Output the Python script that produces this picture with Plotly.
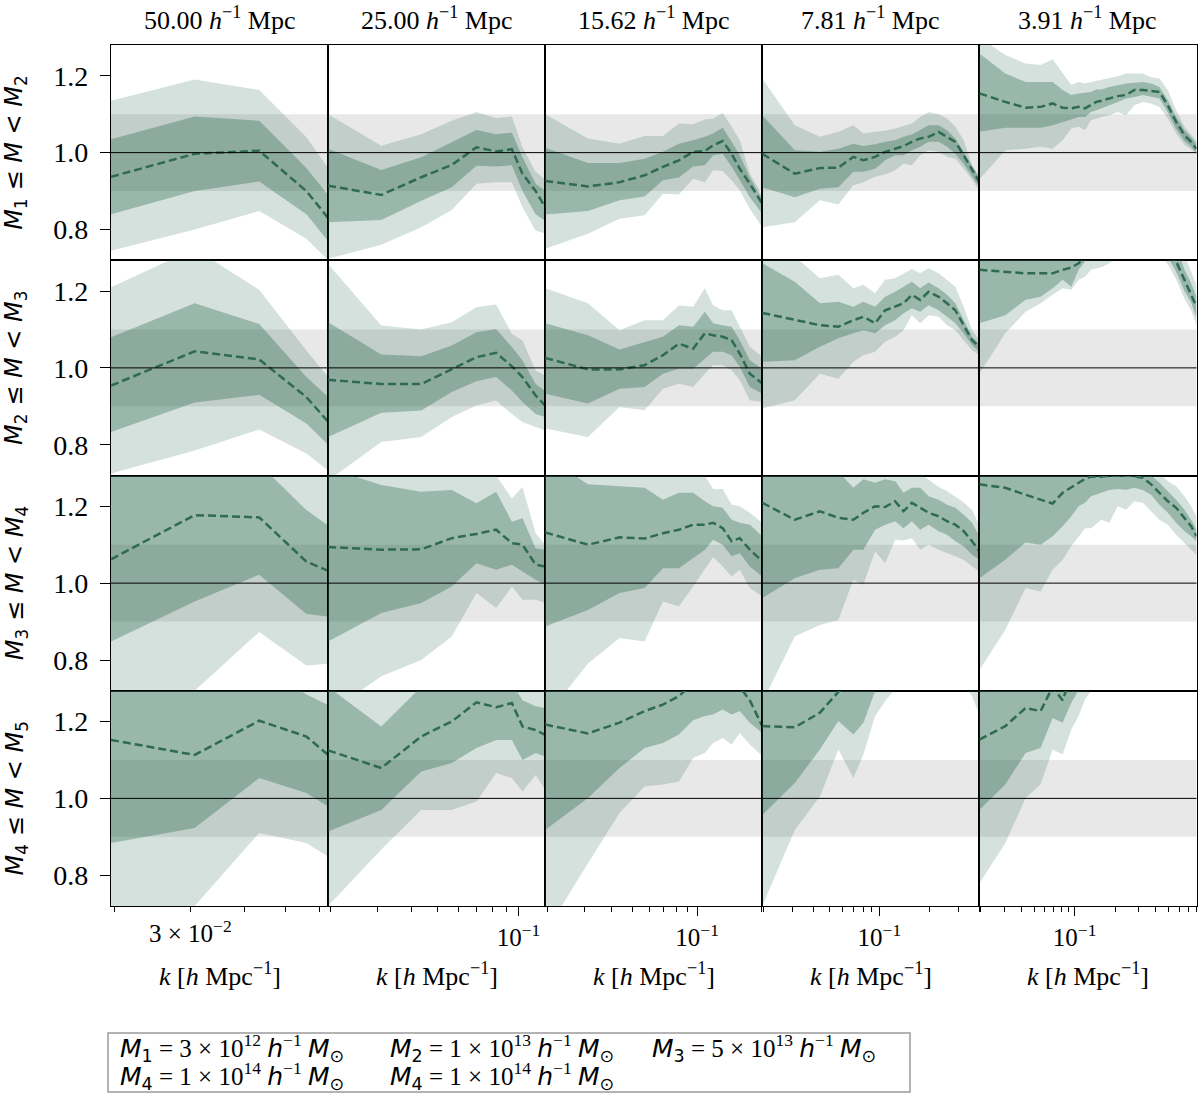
import math
import plotly.graph_objects as go

# ---------------- k grids (h/Mpc) per column ----------------
K1 = [0.0196, 0.0307, 0.0434, 0.0559, 0.0628]
K2 = [0.0196, 0.0309, 0.0435, 0.0565, 0.0698, 0.0826, 0.0945, 0.1035, 0.1158, 0.1257]
K3 = [0.0196, 0.0310, 0.0435, 0.0569, 0.0693, 0.0822, 0.0958, 0.1086, 0.1186, 0.1315,
      0.1447, 0.1580, 0.1759, 0.2011]
K4 = [0.0196, 0.0308, 0.0437, 0.0565, 0.0696, 0.0800, 0.0942, 0.1083, 0.1245, 0.1399,
      0.1571, 0.1765, 0.1983, 0.2281, 0.2562, 0.2878, 0.3233, 0.3632, 0.4022]
K5 = [0.0196, 0.0305, 0.0432, 0.0558, 0.0686, 0.0814, 0.0944, 0.1070, 0.1193, 0.1322,
      0.1449, 0.1578, 0.1810, 0.2088, 0.2408, 0.2778, 0.3205, 0.3697, 0.4264, 0.4918,
      0.5672, 0.6542, 0.7333, 0.8035]

COL_TITLES = ["50.00", "25.00", "15.62", "7.81", "3.91"]
ROW_IDX = [("1", "2"), ("2", "3"), ("3", "4"), ("4", "5")]
MAJOR_TICKS = [[0.03], [0.1], [0.1], [0.1], [0.1]]
MAJOR_TEXT = [["3 × 10<sup>−2</sup>"], ["10<sup>−1</sup>"], ["10<sup>−1</sup>"],
              ["10<sup>−1</sup>"], ["10<sup>−1</sup>"]]
MINOR_TICKS = [0.02, 0.03, 0.04, 0.05, 0.06, 0.07, 0.08, 0.09, 0.2, 0.3, 0.4, 0.5, 0.6, 0.7, 0.8]
YTICKS = [0.8, 1.0, 1.2]
LEGEND_ENTRIES = [("1", "3", "12"), ("2", "1", "13"), ("3", "5", "13"),
                  ("4", "1", "14"), ("4", "1", "14")]

# ---------------- column 1 ----------------
R1C1_MED = [0.937, 0.997, 1.005, 0.900, 0.830]
R1C1_ILO = [0.840, 0.900, 0.925, 0.840, 0.770]
R1C1_IHI = [1.035, 1.094, 1.083, 0.960, 0.890]
R1C1_OLO = [0.745, 0.800, 0.848, 0.776, 0.720]
R1C1_OHI = [1.135, 1.190, 1.163, 1.040, 0.960]

R2C1_MED = [0.954, 1.043, 1.022, 0.924, 0.860]
R2C1_ILO = [0.833, 0.910, 0.930, 0.855, 0.800]
R2C1_IHI = [1.080, 1.168, 1.114, 0.976, 0.924]
R2C1_OLO = [0.725, 0.785, 0.840, 0.777, 0.733]
R2C1_OHI = [1.210, 1.310, 1.203, 1.045, 0.976]

R3C1_MED = [1.062, 1.177, 1.171, 1.056, 1.032]
R3C1_ILO = [0.848, 0.952, 1.022, 0.920, 0.913]
R3C1_IHI = [1.300, 1.330, 1.310, 1.190, 1.150]
R3C1_OLO = [0.620, 0.720, 0.873, 0.786, 0.790]
R3C1_OHI = [1.400, 1.450, 1.400, 1.330, 1.300]

R4C1_MED = [1.152, 1.113, 1.202, 1.161, 1.113]
R4C1_ILO = [0.884, 0.923, 1.053, 1.014, 0.979]
R4C1_IHI = [1.350, 1.400, 1.350, 1.270, 1.243]
R4C1_OLO = [0.700, 0.720, 0.910, 0.884, 0.849]
R4C1_OHI = [1.450, 1.500, 1.450, 1.380, 1.340]

# ---------------- column 2 ----------------
R1C2_MED = [0.914, 0.890, 0.936, 0.968, 1.014, 1.003, 1.009, 0.945, 0.900, 0.858]
R1C2_ILO = [0.819, 0.825, 0.875, 0.910, 0.966, 0.964, 0.967, 0.900, 0.840, 0.823]
R1C2_IHI = [1.010, 0.955, 0.988, 1.027, 1.059, 1.048, 1.052, 0.988, 0.919, 0.900]
R1C2_OLO = [0.724, 0.760, 0.806, 0.851, 0.919, 0.923, 0.923, 0.858, 0.797, 0.790]
R1C2_OHI = [1.100, 1.018, 1.048, 1.083, 1.106, 1.090, 1.094, 1.014, 0.950, 0.930]

R2C2_MED = [0.969, 0.958, 0.958, 0.997, 1.028, 1.039, 1.004, 0.976, 0.928, 0.902]
R2C2_ILO = [0.820, 0.883, 0.889, 0.937, 0.965, 0.976, 0.941, 0.911, 0.880, 0.872]
R2C2_IHI = [1.119, 1.035, 1.030, 1.058, 1.093, 1.101, 1.054, 1.019, 0.958, 0.940]
R2C2_OLO = [0.707, 0.807, 0.820, 0.872, 0.902, 0.915, 0.880, 0.859, 0.846, 0.837]
R2C2_OHI = [1.270, 1.110, 1.100, 1.119, 1.158, 1.165, 1.088, 1.071, 0.993, 0.980]

R3C2_MED = [1.094, 1.087, 1.088, 1.117, 1.128, 1.139, 1.104, 1.100, 1.048, 1.043]
R3C2_ILO = [0.848, 0.922, 0.948, 0.991, 1.052, 1.035, 1.048, 1.030, 1.009, 0.996]
R3C2_IHI = [1.300, 1.255, 1.238, 1.242, 1.208, 1.238, 1.160, 1.169, 1.090, 1.087]
R3C2_OLO = [0.660, 0.758, 0.800, 0.861, 0.974, 0.935, 0.991, 0.957, 0.957, 0.948]
R3C2_OHI = [1.400, 1.320, 1.310, 1.310, 1.300, 1.280, 1.220, 1.250, 1.130, 1.100]

R4C2_MED = [1.125, 1.079, 1.161, 1.200, 1.250, 1.237, 1.248, 1.187, 1.178, 1.165]
R4C2_ILO = [0.914, 0.970, 1.070, 1.092, 1.131, 1.152, 1.152, 1.100, 1.118, 1.109]
R4C2_IHI = [1.290, 1.187, 1.290, 1.320, 1.320, 1.320, 1.300, 1.255, 1.240, 1.235]
R4C2_OLO = [0.720, 0.867, 0.970, 0.970, 0.992, 1.066, 1.053, 1.018, 1.061, 1.023]
R4C2_OHI = [1.400, 1.350, 1.400, 1.400, 1.400, 1.400, 1.400, 1.350, 1.330, 1.320]

# ---------------- column 3 ----------------
R1C3_MED = [0.926, 0.912, 0.923, 0.941, 0.963, 0.980, 1.002, 1.004, 1.019, 1.030, 0.997, 0.958, 0.919, 0.867]
R1C3_ILO = [0.839, 0.848, 0.876, 0.886, 0.928, 0.935, 0.964, 0.967, 0.993, 0.997, 0.963, 0.928, 0.884, 0.841]
R1C3_IHI = [1.013, 0.973, 0.973, 0.984, 1.002, 1.023, 1.032, 1.041, 1.050, 1.065, 1.028, 0.993, 0.935, 0.880]
R1C3_OLO = [0.750, 0.789, 0.828, 0.837, 0.893, 0.891, 0.932, 0.923, 0.954, 0.952, 0.928, 0.902, 0.854, 0.806]
R1C3_OHI = [1.100, 1.037, 1.023, 1.043, 1.043, 1.076, 1.074, 1.086, 1.089, 1.103, 1.067, 1.032, 0.945, 0.890]

R2C3_MED = [1.026, 0.996, 0.996, 1.007, 1.033, 1.063, 1.050, 1.090, 1.085, 1.081, 1.072, 1.037, 0.985, 0.959]
R2C3_ILO = [0.933, 0.907, 0.946, 0.950, 0.985, 0.998, 0.998, 1.024, 1.042, 1.042, 1.033, 1.003, 0.950, 0.933]
R2C3_IHI = [1.116, 1.085, 1.048, 1.068, 1.081, 1.111, 1.107, 1.146, 1.116, 1.111, 1.107, 1.072, 1.020, 0.998]
R2C3_OLO = [0.842, 0.820, 0.898, 0.890, 0.946, 0.959, 0.950, 0.985, 1.007, 1.007, 0.994, 0.968, 0.916, 0.911]
R2C3_OHI = [1.207, 1.168, 1.098, 1.124, 1.124, 1.162, 1.159, 1.207, 1.163, 1.150, 1.150, 1.107, 1.055, 1.029]

R3C3_MED = [1.132, 1.100, 1.119, 1.116, 1.130, 1.139, 1.152, 1.152, 1.157, 1.143, 1.109, 1.117, 1.087, 1.057]
R3C3_ILO = [0.887, 0.930, 0.974, 0.987, 1.039, 1.039, 1.065, 1.087, 1.113, 1.100, 1.070, 1.078, 1.043, 1.017]
R3C3_IHI = [1.330, 1.257, 1.252, 1.248, 1.217, 1.235, 1.235, 1.213, 1.200, 1.196, 1.165, 1.157, 1.152, 1.122]
R3C3_OLO = [0.650, 0.791, 0.857, 0.848, 0.952, 0.939, 0.991, 1.035, 1.068, 1.043, 1.017, 1.035, 0.987, 0.965]
R3C3_OHI = [1.350, 1.300, 1.290, 1.290, 1.290, 1.290, 1.290, 1.280, 1.245, 1.245, 1.204, 1.200, 1.183, 1.157]

R4C3_MED = [1.192, 1.169, 1.197, 1.227, 1.244, 1.266, 1.300, 1.310, 1.310, 1.310, 1.310, 1.290, 1.255, 1.188]
R4C3_ILO = [0.918, 1.001, 1.079, 1.131, 1.144, 1.166, 1.203, 1.214, 1.218, 1.231, 1.218, 1.227, 1.197, 1.170]
R4C3_IHI = [1.400, 1.400, 1.400, 1.400, 1.400, 1.400, 1.400, 1.400, 1.400, 1.400, 1.400, 1.380, 1.340, 1.300]
R4C3_OLO = [0.650, 0.831, 0.962, 1.031, 1.036, 1.044, 1.105, 1.118, 1.144, 1.157, 1.140, 1.170, 1.140, 1.110]
R4C3_OHI = [1.450, 1.450, 1.450, 1.450, 1.450, 1.450, 1.450, 1.450, 1.450, 1.450, 1.450, 1.450, 1.450, 1.450]

# ---------------- column 4 ----------------
R1C4_MED = [0.997, 0.945, 0.960, 0.961, 0.989, 0.980, 0.989, 1.002, 1.010, 1.017, 1.028, 1.037, 1.041, 1.054,
            1.041, 1.028, 0.993, 0.954, 0.923]
R1C4_ILO = [0.910, 0.884, 0.906, 0.910, 0.950, 0.950, 0.958, 0.980, 0.993, 0.993, 1.006, 1.015, 1.028, 1.028,
            1.015, 0.997, 0.971, 0.937, 0.910]
R1C4_IHI = [1.097, 1.006, 1.002, 1.010, 1.023, 1.017, 1.022, 1.028, 1.032, 1.041, 1.047, 1.058, 1.071, 1.071,
            1.058, 1.037, 1.000, 0.965, 0.935]
R1C4_OLO = [0.806, 0.819, 0.876, 0.865, 0.915, 0.923, 0.937, 0.943, 0.954, 0.971, 0.967, 0.993, 1.006, 1.002,
            0.989, 0.984, 0.958, 0.930, 0.900]
R1C4_OHI = [1.193, 1.071, 1.041, 1.054, 1.071, 1.050, 1.054, 1.057, 1.063, 1.069, 1.076, 1.093, 1.106, 1.100,
            1.089, 1.067, 1.032, 0.967, 0.937]

R2C4_MED = [1.143, 1.126, 1.111, 1.107, 1.124, 1.133, 1.116, 1.150, 1.159, 1.168, 1.190, 1.177, 1.198, 1.185,
            1.168, 1.150, 1.111, 1.072, 1.055]
R2C4_ILO = [1.016, 1.020, 1.055, 1.077, 1.090, 1.098, 1.090, 1.111, 1.124, 1.142, 1.155, 1.146, 1.163, 1.150,
            1.133, 1.116, 1.090, 1.059, 1.042]
R2C4_IHI = [1.272, 1.224, 1.168, 1.172, 1.159, 1.172, 1.159, 1.185, 1.198, 1.211, 1.224, 1.207, 1.222, 1.207,
            1.190, 1.168, 1.124, 1.081, 1.062]
R2C4_OLO = [0.894, 0.916, 0.985, 0.972, 1.016, 1.033, 1.042, 1.068, 1.081, 1.098, 1.137, 1.116, 1.137, 1.133,
            1.111, 1.098, 1.072, 1.046, 1.033]
R2C4_OHI = [1.300, 1.290, 1.233, 1.242, 1.207, 1.216, 1.194, 1.229, 1.233, 1.246, 1.257, 1.246, 1.259, 1.246,
            1.229, 1.211, 1.159, 1.098, 1.072]

R3C4_MED = [1.209, 1.165, 1.187, 1.170, 1.165, 1.183, 1.200, 1.198, 1.213, 1.187, 1.209, 1.196, 1.183, 1.174,
            1.161, 1.152, 1.135, 1.109, 1.083]
R3C4_ILO = [0.961, 1.013, 1.035, 1.039, 1.087, 1.087, 1.139, 1.152, 1.161, 1.143, 1.161, 1.139, 1.152, 1.135,
            1.126, 1.109, 1.096, 1.074, 1.061]
R3C4_IHI = [1.320, 1.320, 1.310, 1.290, 1.248, 1.270, 1.261, 1.270, 1.265, 1.235, 1.248, 1.248, 1.226, 1.217,
            1.204, 1.196, 1.178, 1.157, 1.122]
R3C4_OLO = [0.690, 0.861, 0.891, 0.904, 1.009, 0.996, 1.083, 1.052, 1.113, 1.111, 1.117, 1.087, 1.100, 1.087,
            1.078, 1.070, 1.061, 1.043, 1.030]
R3C4_OHI = [1.350, 1.350, 1.330, 1.310, 1.290, 1.300, 1.300, 1.300, 1.300, 1.290, 1.290, 1.285, 1.268, 1.250,
            1.240, 1.225, 1.210, 1.190, 1.150]

R4C4_MED = [1.188, 1.185, 1.223, 1.277, 1.310, 1.330, 1.350, 1.350, 1.350, 1.350, 1.350, 1.350, 1.350, 1.350,
            1.350, 1.350, 1.350, 1.350, 1.350]
R4C4_ILO = [0.957, 1.040, 1.127, 1.201, 1.166, 1.197, 1.279, 1.310, 1.320, 1.330, 1.330, 1.330, 1.330, 1.330,
            1.330, 1.330, 1.320, 1.310, 1.300]
R4C4_IHI = [1.400, 1.400, 1.400, 1.400, 1.400, 1.400, 1.400, 1.400, 1.400, 1.400, 1.400, 1.400, 1.400, 1.400,
            1.400, 1.400, 1.400, 1.400, 1.400]
R4C4_OLO = [0.720, 0.918, 1.005, 1.127, 1.053, 1.114, 1.214, 1.253, 1.285, 1.300, 1.310, 1.310, 1.310, 1.310,
            1.310, 1.310, 1.300, 1.266, 1.218]
R4C4_OHI = [1.450, 1.450, 1.450, 1.450, 1.450, 1.450, 1.450, 1.450, 1.450, 1.450, 1.450, 1.450, 1.450, 1.450,
            1.450, 1.450, 1.450, 1.450, 1.450]

# ---------------- column 5 ----------------
R1C5_MED = [1.154, 1.132, 1.117, 1.119, 1.128, 1.117, 1.115, 1.119, 1.115, 1.123, 1.132, 1.135, 1.141, 1.147,
            1.150, 1.163, 1.163, 1.161, 1.158, 1.123, 1.080, 1.045, 1.028, 1.010]
R1C5_ILO = [1.054, 1.065, 1.065, 1.065, 1.071, 1.080, 1.086, 1.093, 1.093, 1.106, 1.110, 1.115, 1.123, 1.132,
            1.141, 1.145, 1.150, 1.145, 1.141, 1.105, 1.062, 1.030, 1.015, 0.998]
R1C5_IHI = [1.258, 1.206, 1.184, 1.184, 1.184, 1.163, 1.150, 1.154, 1.156, 1.158, 1.164, 1.164, 1.171, 1.176,
            1.180, 1.182, 1.184, 1.180, 1.171, 1.137, 1.093, 1.058, 1.040, 1.022]
R1C5_OLO = [0.930, 1.006, 1.010, 1.015, 1.010, 1.032, 1.063, 1.067, 1.058, 1.084, 1.089, 1.093, 1.097, 1.106,
            1.097, 1.123, 1.132, 1.128, 1.119, 1.089, 1.050, 1.020, 1.008, 0.995]
R1C5_OHI = [1.300, 1.254, 1.232, 1.228, 1.243, 1.206, 1.176, 1.184, 1.180, 1.184, 1.187, 1.189, 1.193, 1.199,
            1.206, 1.206, 1.206, 1.196, 1.193, 1.163, 1.110, 1.067, 1.048, 1.030]

R2C5_MED = [1.255, 1.249, 1.246, 1.246, 1.246, 1.255, 1.261, 1.272, 1.290, 1.300, 1.310, 1.320, 1.330, 1.330,
            1.330, 1.330, 1.330, 1.330, 1.320, 1.300, 1.277, 1.229, 1.194, 1.159]
R2C5_ILO = [1.116, 1.137, 1.177, 1.185, 1.207, 1.229, 1.211, 1.255, 1.277, 1.300, 1.310, 1.320, 1.320, 1.320,
            1.320, 1.320, 1.320, 1.320, 1.310, 1.290, 1.250, 1.200, 1.170, 1.130]
R2C5_IHI = [1.300, 1.300, 1.300, 1.300, 1.300, 1.310, 1.310, 1.320, 1.340, 1.350, 1.360, 1.370, 1.380, 1.380,
            1.380, 1.380, 1.380, 1.380, 1.370, 1.350, 1.315, 1.255, 1.220, 1.185]
R2C5_OLO = [0.985, 1.090, 1.146, 1.168, 1.190, 1.207, 1.203, 1.229, 1.237, 1.255, 1.259, 1.262, 1.272, 1.290,
            1.300, 1.300, 1.300, 1.300, 1.290, 1.270, 1.230, 1.180, 1.150, 1.110]
R2C5_OHI = [1.350, 1.350, 1.350, 1.350, 1.350, 1.360, 1.360, 1.370, 1.390, 1.400, 1.410, 1.420, 1.430, 1.430,
            1.430, 1.430, 1.430, 1.430, 1.420, 1.400, 1.360, 1.290, 1.250, 1.215]

R3C5_MED = [1.257, 1.248, 1.230, 1.217, 1.207, 1.235, 1.248, 1.261, 1.271, 1.277, 1.277, 1.277, 1.280, 1.280,
            1.280, 1.278, 1.274, 1.257, 1.235, 1.213, 1.196, 1.170, 1.148, 1.122]
R3C5_ILO = [1.013, 1.061, 1.106, 1.100, 1.122, 1.148, 1.174, 1.200, 1.209, 1.226, 1.230, 1.235, 1.242, 1.245,
            1.243, 1.248, 1.242, 1.230, 1.204, 1.183, 1.157, 1.135, 1.122, 1.109]
R3C5_IHI = [1.330, 1.330, 1.330, 1.330, 1.330, 1.330, 1.330, 1.330, 1.330, 1.330, 1.330, 1.330, 1.330, 1.330,
            1.320, 1.300, 1.290, 1.280, 1.261, 1.239, 1.217, 1.191, 1.165, 1.139]
R3C5_OLO = [0.774, 0.878, 0.987, 0.978, 1.035, 1.061, 1.096, 1.122, 1.143, 1.143, 1.155, 1.165, 1.157, 1.200,
            1.191, 1.213, 1.209, 1.187, 1.165, 1.152, 1.126, 1.104, 1.087, 1.074]
R3C5_OHI = [1.380, 1.380, 1.380, 1.380, 1.380, 1.380, 1.380, 1.380, 1.380, 1.380, 1.380, 1.380, 1.380, 1.380,
            1.360, 1.340, 1.320, 1.300, 1.285, 1.265, 1.252, 1.226, 1.200, 1.174]

R4C5_MED = [1.153, 1.188, 1.235, 1.227, 1.290, 1.255, 1.320, 1.340, 1.350, 1.350, 1.350, 1.350, 1.350, 1.350,
            1.350, 1.350, 1.350, 1.350, 1.350, 1.350, 1.350, 1.350, 1.350, 1.350]
R4C5_ILO = [0.970, 1.036, 1.118, 1.131, 1.209, 1.197, 1.249, 1.281, 1.300, 1.320, 1.320, 1.320, 1.320, 1.320,
            1.320, 1.320, 1.320, 1.320, 1.320, 1.320, 1.320, 1.320, 1.320, 1.320]
R4C5_IHI = [1.400, 1.400, 1.400, 1.400, 1.400, 1.400, 1.400, 1.400, 1.400, 1.400, 1.400, 1.400, 1.400, 1.400,
            1.400, 1.400, 1.400, 1.400, 1.400, 1.400, 1.400, 1.400, 1.400, 1.400]
R4C5_OLO = [0.779, 0.883, 1.001, 1.036, 1.127, 1.114, 1.179, 1.214, 1.257, 1.281, 1.300, 1.310, 1.310, 1.310,
            1.310, 1.310, 1.310, 1.310, 1.310, 1.310, 1.310, 1.310, 1.310, 1.310]
R4C5_OHI = [1.450, 1.450, 1.450, 1.450, 1.450, 1.450, 1.450, 1.450, 1.450, 1.450, 1.450, 1.450, 1.450, 1.450,
            1.450, 1.450, 1.450, 1.450, 1.450, 1.450, 1.450, 1.450, 1.450, 1.450]

COL_K = [K1, K2, K3, K4, K5]
G = globals()

# ---------------- styling / geometry ----------------
W, H = 1200, 1094
X_LEFT, X_RIGHT = 111 / W, 1196.5 / W
Y_TOP, Y_BOT = 1 - 45 / H, 1 - 906 / H
NC, NR = 5, 4
CW = (X_RIGHT - X_LEFT) / NC
RH = (Y_TOP - Y_BOT) / NR

LINE_COL = "#2f6b52"
OUTER_FILL = "rgba(47,107,82,0.20)"
INNER_FILL = "rgba(47,107,82,0.36)"
SERIF = "Liberation Serif"
SANS = "DejaVu Sans"

fig = go.Figure()
layout = dict(width=W, height=H, margin=dict(l=0, r=0, t=0, b=0),
              paper_bgcolor="white", plot_bgcolor="white", showlegend=False)
shapes, annotations = [], []

for r in range(NR):
    for c in range(NC):
        n = r * NC + c + 1
        xs = "" if n == 1 else str(n)
        key = "R%dC%d_" % (r + 1, c + 1)
        k = COL_K[c]
        olo, ohi = G[key + "OLO"], G[key + "OHI"]
        ilo, ihi = G[key + "ILO"], G[key + "IHI"]
        med = G[key + "MED"]
        xr = k + k[::-1]
        fig.add_trace(go.Scatter(x=xr, y=ohi + olo[::-1], fill="toself", fillcolor=OUTER_FILL,
                                 mode="lines", line=dict(width=0), hoverinfo="skip",
                                 xaxis="x" + xs, yaxis="y" + xs))
        fig.add_trace(go.Scatter(x=xr, y=ihi + ilo[::-1], fill="toself", fillcolor=INNER_FILL,
                                 mode="lines", line=dict(width=0), hoverinfo="skip",
                                 xaxis="x" + xs, yaxis="y" + xs))
        fig.add_trace(go.Scatter(x=k, y=med, mode="lines",
                                 line=dict(color=LINE_COL, width=2.5, dash="8px,4px"),
                                 xaxis="x" + xs, yaxis="y" + xs))

        xdom = [X_LEFT + c * CW, X_LEFT + (c + 1) * CW]
        ydom = [Y_TOP - (r + 1) * RH, Y_TOP - r * RH]
        bottom = (r == NR - 1)
        xa = dict(type="log", domain=xdom, anchor="y" + xs,
                  range=[math.log10(k[0]), math.log10(k[-1])],
                  showgrid=False, zeroline=False, showline=True, mirror=True,
                  linecolor="black", linewidth=1.2)
        if bottom:
            major = MAJOR_TICKS[c]
            xa.update(tickmode="array", tickvals=major, ticktext=MAJOR_TEXT[c],
                      ticks="outside", ticklen=5 if c == 0 else 9, tickwidth=1.2,
                      tickcolor="black", showticklabels=True,
                      tickfont=dict(family=SERIF, size=25, color="black"),
                      minor=dict(ticks="outside", ticklen=5, tickwidth=1, tickcolor="black",
                                 tickmode="array",
                                 tickvals=[t for t in MINOR_TICKS if t not in major]))
        else:
            xa.update(showticklabels=False, ticks="")
        ya = dict(domain=ydom, anchor="x" + xs, range=[0.72, 1.28],
                  showgrid=False, zeroline=False, showline=True, mirror=True,
                  linecolor="black", linewidth=1.2)
        if c == 0:
            ya.update(tickmode="array", tickvals=YTICKS, ticktext=["%.1f" % v for v in YTICKS],
                      ticks="outside", ticklen=10, tickwidth=1.2, tickcolor="black",
                      ticklabelstandoff=6,
                      tickfont=dict(family=SERIF, size=28, color="black"))
        else:
            ya.update(showticklabels=False, ticks="")
        layout["xaxis" + xs] = xa
        layout["yaxis" + xs] = ya

        shapes.append(dict(type="rect", xref="x%s domain" % xs, yref="y" + xs,
                           x0=0, x1=1, y0=0.9, y1=1.1, fillcolor="#e8e8e8",
                           line=dict(width=0), layer="below"))
        shapes.append(dict(type="line", xref="x%s domain" % xs, yref="y" + xs,
                           x0=0, x1=1, y0=1.0, y1=1.0, line=dict(color="black", width=1),
                           layer="above"))

        if r == 0:
            annotations.append(dict(
                text="%s <i>h</i><sup>−1</sup> Mpc" % COL_TITLES[c],
                xref="paper", yref="paper", x=(xdom[0] + xdom[1]) / 2, y=1.0,
                xanchor="center", yanchor="top", showarrow=False,
                font=dict(family=SERIF, size=26, color="black")))
        if bottom:
            annotations.append(dict(
                text="<i>k</i> [<i>h</i> Mpc<sup>−1</sup>]",
                xref="paper", yref="paper", x=(xdom[0] + xdom[1]) / 2, y=1 - 974 / H,
                xanchor="center", yanchor="middle", showarrow=False,
                font=dict(family=SERIF, size=26, color="black")))
    a, b = ROW_IDX[r]
    annotations.append(dict(
        text="<i>M</i><sub>%s</sub> ≤ <i>M</i> &lt; <i>M</i><sub>%s</sub>" % (a, b),
        xref="paper", yref="paper", x=16 / W, y=Y_TOP - (r + 0.5) * RH,
        xanchor="center", yanchor="middle", textangle=-90, showarrow=False,
        font=dict(family=SANS, size=24, color="black")))

# legend box
shapes.append(dict(type="rect", xref="paper", yref="paper",
                   x0=108 / W, x1=910 / W, y0=1 - 1092 / H, y1=1 - 1033 / H,
                   fillcolor="white", line=dict(color="#9a9a9a", width=1.5), layer="above"))
LEG_POS = [(118, 1048), (388, 1048), (650, 1048), (118, 1076), (388, 1076)]
for (idx, mant, ex), (px, py) in zip(LEGEND_ENTRIES, LEG_POS):
    txt = ("<span style='font-family:DejaVu Sans'><i>M</i><sub>%s</sub></span> = %s × 10<sup>%s</sup> "
           "<span style='font-family:DejaVu Sans'><i>h</i></span><sup>−1</sup> "
           "<span style='font-family:DejaVu Sans'><i>M</i><sub>⊙</sub></span>") % (idx, mant, ex)
    annotations.append(dict(text=txt, xref="paper", yref="paper", x=px / W, y=1 - py / H,
                            xanchor="left", yanchor="middle", showarrow=False,
                            font=dict(family=SERIF, size=25, color="black")))

layout["shapes"] = shapes
layout["annotations"] = annotations
fig.update_layout(**layout)
fig.write_html("out.html", config={"displayModeBar": False},
               post_script="document.body.style.margin='0px';document.body.style.overflow='hidden';")
